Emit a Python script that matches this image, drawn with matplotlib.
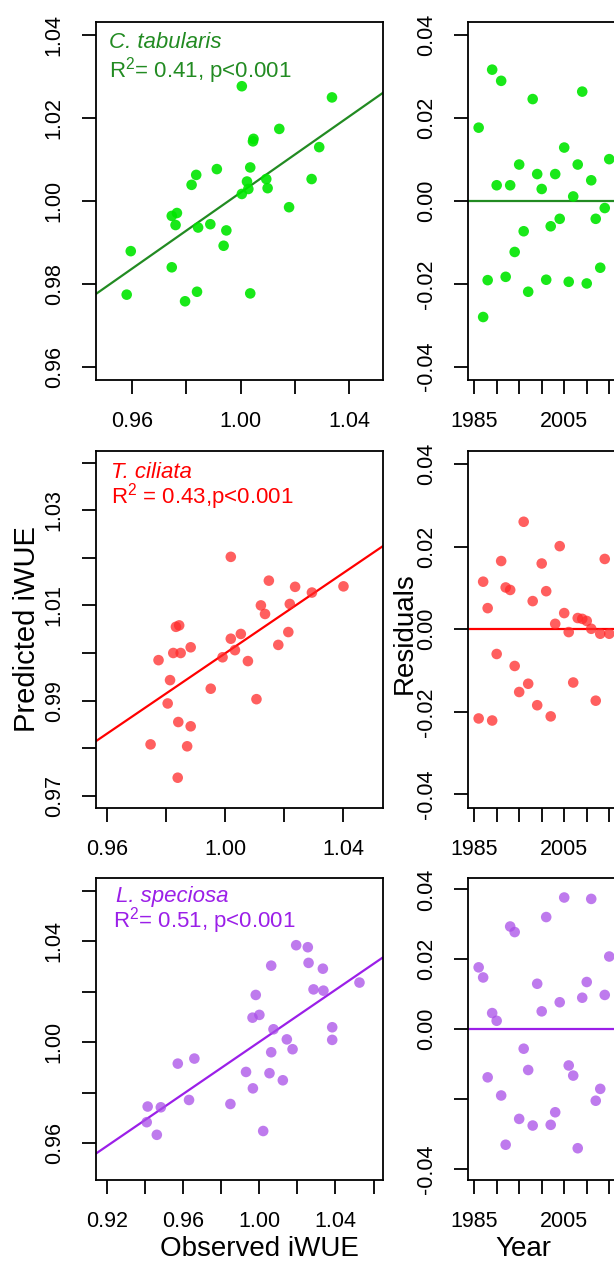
import numpy as np
import matplotlib
matplotlib.use("Agg")
import matplotlib.pyplot as plt

plt.rcParams['font.family'] = ['Liberation Sans', 'DejaVu Sans']
plt.rcParams['mathtext.fontset'] = 'custom'
plt.rcParams['mathtext.rm'] = 'Liberation Sans'
plt.rcParams['mathtext.it'] = 'Liberation Sans:italic'

# ---- data ----
years = np.arange(1986, 2016)

# C. tabularis
tab_obs = [1.0004, 1.0336, 1.0142, 1.0047, 1.0045, 1.0289, 0.9912, 1.0035, 0.9836, 0.9819,
           1.0023, 1.0094, 1.0261, 1.0028, 1.0099, 1.0004, 1.0178, 0.9765, 0.9746, 0.9760,
           0.9843, 0.9888, 0.9947, 0.9937, 0.9595, 0.9746, 0.9580, 0.9839, 1.0035, 0.9795]
tab_pred = [1.0277, 1.0250, 1.0174, 1.0150, 1.0144, 1.0130, 1.0077, 1.0081, 1.0063, 1.0039,
            1.0047, 1.0053, 1.0053, 1.0029, 1.0031, 1.0017, 0.9985, 0.9971, 0.9964, 0.9942,
            0.9936, 0.9944, 0.9929, 0.9892, 0.9879, 0.9840, 0.9774, 0.9781, 0.9777, 0.9758]
tab_res = [0.0177, -0.0280, -0.0191, 0.0317, 0.0038, 0.0290, -0.0183, 0.0038, -0.0123, 0.0088,
           -0.0073, -0.0219, 0.0246, 0.0065, 0.0029, -0.0190, -0.0061, 0.0065, -0.0043, 0.0129,
           -0.0195, 0.0011, 0.0088, 0.0264, -0.0199, 0.0050, -0.0043, -0.0161, -0.0017, 0.0101]

# T. ciliata
cil_obs = [1.0019, 1.0148, 1.0237, 1.0294, 1.0401, 1.0121, 1.0219, 1.0135, 0.9833, 0.9844,
           1.0019, 1.0053, 1.0214, 1.0180, 0.9824, 0.9849, 0.9883, 1.0033, 0.9991, 1.0077,
           0.9774, 0.9813, 0.9951, 1.0106, 0.9805, 0.9841, 0.9883, 0.9747, 0.9871, 0.9839]
cil_pred = [1.0202, 1.0152, 1.0139, 1.0127, 1.0140, 1.0100, 1.0103, 1.0082, 1.0055, 1.0058,
            1.0030, 1.0040, 1.0044, 1.0017, 1.0000, 1.0000, 1.0012, 1.0006, 0.9991, 0.9983,
            0.9985, 0.9943, 0.9925, 0.9903, 0.9894, 0.9855, 0.9846, 0.9808, 0.9804, 0.9738]
cil_res = [-0.0216, 0.0115, 0.0051, -0.0221, -0.0060, 0.0165, 0.0101, 0.0095, -0.0089, -0.0152,
           0.0260, -0.0132, 0.0068, -0.0184, 0.0159, 0.0092, -0.0211, 0.0013, 0.0201, 0.0039,
           -0.0007, -0.0129, 0.0027, 0.0025, 0.0020, 0.0001, -0.0173, -0.0011, 0.0170, -0.0011]

# L. speciosa
spe_obs = [1.0194, 1.0255, 1.0063, 1.0259, 1.0334, 1.0526, 1.0285, 1.0337, 0.9982, 0.9965,
           1.0001, 1.0075, 1.0383, 1.0145, 1.0383, 1.0175, 1.0063, 0.9573, 0.9660, 0.9931,
           1.0054, 1.0124, 0.9967, 0.9632, 0.9849, 0.9415, 0.9484, 0.9410, 0.9463, 1.0021]
spe_pred = [1.0384, 1.0376, 1.0303, 1.0314, 1.0291, 1.0236, 1.0209, 1.0204, 1.0187, 1.0097,
            1.0108, 1.0051, 1.0059, 1.0011, 1.0009, 0.9972, 0.9960, 0.9915, 0.9935, 0.9882,
            0.9877, 0.9849, 0.9817, 0.9771, 0.9755, 0.9745, 0.9742, 0.9683, 0.9633, 0.9648]
spe_res = [0.0177, 0.0148, -0.0138, 0.0046, 0.0024, -0.0190, -0.0331, 0.0294, 0.0278, -0.0257,
           -0.0056, -0.0117, -0.0276, 0.0130, 0.0051, 0.0321, -0.0274, -0.0238, 0.0077, 0.0377,
           -0.0104, -0.0133, -0.0341, 0.0090, 0.0135, 0.0373, -0.0205, -0.0171, 0.0098, 0.0208]

species = ["C. tabularis", "T. ciliata", "L. speciosa"]
stats = [r"R$^2$= 0.41, p<0.001", r"R$^2$ = 0.43,p<0.001", r"R$^2$= 0.51, p<0.001"]
obs_all = [tab_obs, cil_obs, spe_obs]
pred_all = [tab_pred, cil_pred, spe_pred]
res_all = [tab_res, cil_res, spe_res]

point_cols = ["#00e600", "#ff2a2a", "#a94ee8"]
point_alpha = [0.9, 0.75, 0.75]
line_cols = ["#228b22", "#ff0000", "#9b1fe8"]

# ---- layout (pixels) ----
W, H = 614, 1262
fig = plt.figure(figsize=(W / 100, H / 100), dpi=100)

rows = [(22, 358), (450.7, 357), (878.3, 301.7)]
left_x, right_x, panel_w = 96, 468.3, 287.3


def add_px_axes(x, top, w, h):
    return fig.add_axes([x / W, 1 - (top + h) / H, w / W, h / H])


def style(ax):
    for sp in ax.spines.values():
        sp.set_linewidth(1.3)
    ax.tick_params(direction='out', length=10, width=1.3, labelsize=15.5, pad=12.5)
    plt.setp(ax.get_yticklabels(), rotation=90, va='center')


xlims = [(0.9467, 1.0525), (0.9562, 1.0536), (0.9144, 1.0651)]
ylims = [(0.9568, 1.0432), (0.9675, 1.0425), (0.9454, 1.0649)]
xticks = [np.arange(0.96, 1.041, 0.02), np.arange(0.96, 1.041, 0.02), np.arange(0.92, 1.061, 0.02)]
xlabs = [["0.96", "", "1.00", "", "1.04"], ["0.96", "", "1.00", "", "1.04"],
         ["0.92", "", "0.96", "", "1.00", "", "1.04", ""]]
yticks = [np.arange(0.96, 1.041, 0.02), np.arange(0.97, 1.041, 0.01), np.arange(0.96, 1.061, 0.02)]
ylabs = [["0.96", "0.98", "1.00", "1.02", "1.04"],
         ["0.97", "", "0.99", "", "1.01", "", "1.03", ""],
         ["0.96", "", "1.00", "", "1.04", ""]]
text_pos = [(0.046, 0.928, 0.046, 0.846), (0.051, 0.9235, 0.051, 0.853), (0.070, 0.922, 0.060, 0.838)]

res_ticks = [-0.04, -0.02, 0.0, 0.02, 0.04]
year_ticks = np.arange(1985, 2046, 5)
# only 1985 and 2005 fall inside the visible crop
year_labs = [str(y) if y in (1985, 2005) else "" for y in year_ticks]

for i in range(3):
    top, h = rows[i]
    # scatter of predicted vs observed
    ax = add_px_axes(left_x, top, panel_w, h)
    ax.scatter(obs_all[i], pred_all[i], s=58, color=point_cols[i], alpha=point_alpha[i],
               edgecolors='none', zorder=3)
    ax.set_xlim(xlims[i])
    ax.set_ylim(ylims[i])
    coef = np.polyfit(obs_all[i], pred_all[i], 1)
    xs = np.array(xlims[i])
    ax.plot(xs, np.polyval(coef, xs), color=line_cols[i], lw=1.6, zorder=2)
    ax.set_xticks(xticks[i])
    ax.set_xticklabels(xlabs[i])
    ax.set_yticks(yticks[i])
    ax.set_yticklabels(ylabs[i])
    style(ax)
    tx1, ty1, tx2, ty2 = text_pos[i]
    ax.text(tx1, ty1, species[i], transform=ax.transAxes, color=line_cols[i],
            fontsize=16, style='italic', va='baseline')
    ax.text(tx2, ty2, stats[i], transform=ax.transAxes, color=line_cols[i],
            fontsize=16, va='baseline')

    # residuals over time
    axr = add_px_axes(right_x, top, panel_w, h)
    axr.scatter(years, res_all[i], s=58, color=point_cols[i], alpha=point_alpha[i],
                edgecolors='none', zorder=3)
    axr.axhline(0, color=line_cols[i], lw=1.6, zorder=2)
    axr.set_xlim(1983.7, 2047.5)
    axr.set_ylim(-0.0432, 0.0432)
    axr.set_xticks(year_ticks)
    axr.set_xticklabels(year_labs)
    axr.set_yticks(res_ticks)
    rl = ["-0.04", "-0.02", "0.00", "0.02", "0.04"]
    if i == 2:
        rl[1] = ""
    axr.set_yticklabels(rl)
    style(axr)

fig.text(27 / W, 1 - 629 / H, "Predicted iWUE", rotation=90, fontsize=21,
         ha='center', va='center')
fig.text(405 / W, 1 - 633 / H, "Residuals", rotation=90, fontsize=20,
         ha='center', va='center')
fig.text(259 / W, 1 - 1249 / H, "Observed iWUE", fontsize=20, ha='center', va='center')
fig.text(523 / W, 1 - 1249 / H, "Year", fontsize=20, ha='center', va='center')

fig.savefig("out.png", dpi=100)
